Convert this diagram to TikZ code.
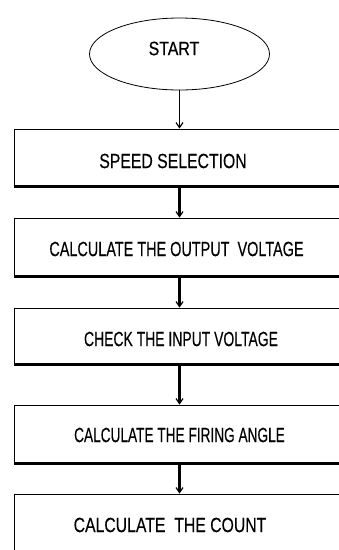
\documentclass[tikz,border=0pt]{standalone}
\usepackage{fontspec}
\setmainfont{Liberation Sans}
\newfontfamily\flowfont[FakeBold=0.3]{Liberation Sans}
\usepackage{graphicx}
\usetikzlibrary{shapes.geometric,arrows.meta}
\tikzset{
  stepbox/.style={draw=black, line width=0.8pt, rectangle, minimum width=338pt, inner sep=0pt},
  steptext/.style={inner sep=0pt, font=\flowfont\fontsize{20.5}{23}\selectfont},
  bottomedge/.style={line width=2.6pt},
  flowarrow/.style={line width=2.2pt, -{Straight Barb[length=5pt,width=7pt,line width=1.2pt]}},
  thinarrow/.style={line width=1pt, -{Straight Barb[length=5pt,width=7pt,line width=1.2pt]}},
}
\begin{document}
\begin{tikzpicture}[x=1pt,y=-1pt]
\useasboundingbox (0,0) rectangle (339,550);
\clip (0,0) rectangle (339,550);
\fill[white] (0,0) rectangle (339,550);
% start ellipse
\node[ellipse, draw=black, line width=0.8pt, minimum width=180pt, minimum height=72pt, inner sep=0pt] (start) at (179.5,54) {};
\node[inner sep=0pt, font=\flowfont\fontsize{19.5}{22}\selectfont] (starttext) at (174,48.5) {\scalebox{0.816}[1]{START}};
% boxes
\node[stepbox, minimum height=57pt] (box1) at (183,157.5) {};
\node[stepbox, minimum height=58pt] (box2) at (183,247) {};
\node[stepbox, minimum height=56pt] (box3) at (183,336) {};
\node[stepbox, minimum height=58pt] (box4) at (183,434) {};
\node[stepbox, minimum height=66pt] (box5) at (183,527) {};
% thicker bottom edges
\foreach \b in {box1,box2,box3,box4}
  \draw[bottomedge] (\b.south west) -- (\b.south east);
% texts
\node[steptext] (t1) at (173,161) {\scalebox{0.77}[1]{SPEED SELECTION}};
\node[steptext] (t2) at (176.5,249) {\scalebox{0.704}[1]{CALCULATE THE OUTPUT\ \ VOLTAGE}};
\node[steptext] (t3) at (181,339) {\scalebox{0.68}[1]{CHECK THE INPUT VOLTAGE}};
\node[steptext] (t4) at (179.5,435) {\scalebox{0.666}[1]{CALCULATE THE FIRING ANGLE}};
\node[steptext] (t5) at (170,525) {\scalebox{0.77}[1]{CALCULATE\ \ THE COUNT}};
% connectors
\draw[thinarrow] (start.south) -- (start.south |- box1.north);
\draw[flowarrow] (box1.south -| start.south) -- (box2.north -| start.south);
\draw[flowarrow] (box2.south -| start.south) -- (box3.north -| start.south);
\draw[flowarrow] (box3.south -| start.south) -- (box4.north -| start.south);
\draw[flowarrow] (box4.south -| start.south) -- (box5.north -| start.south);
\end{tikzpicture}
\end{document}
